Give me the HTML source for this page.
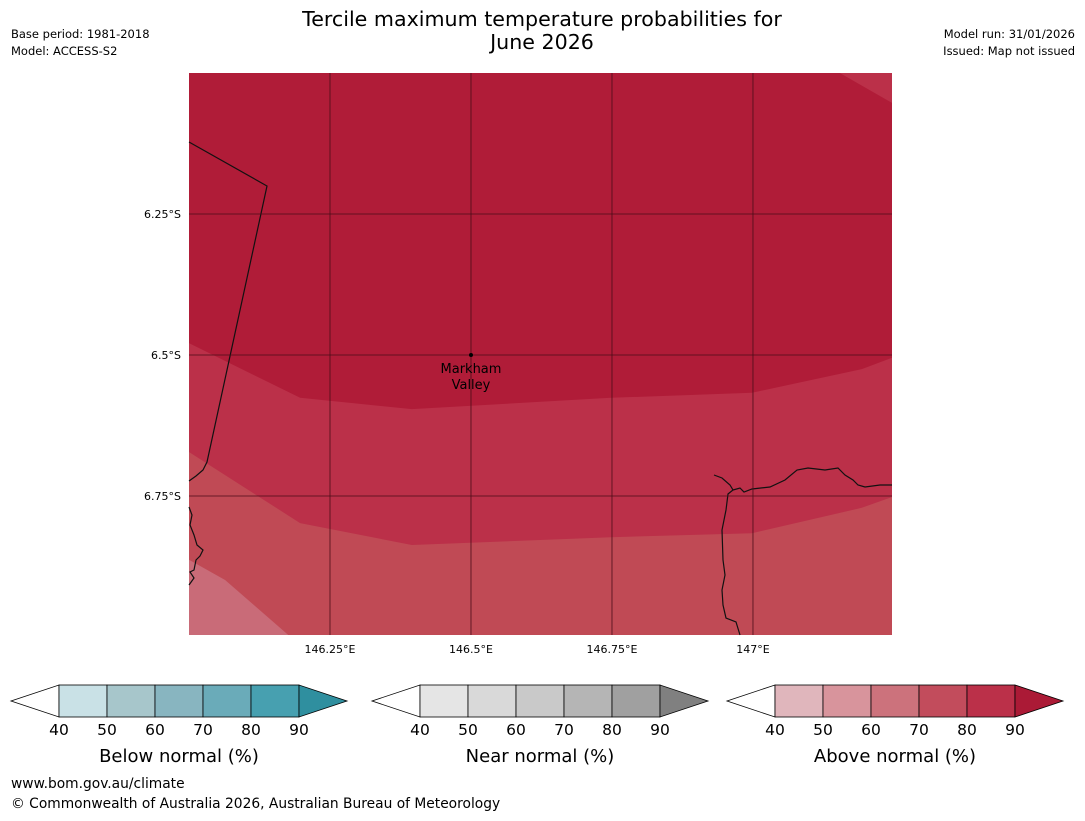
<!DOCTYPE html>
<html><head><meta charset="utf-8"><style>
body{margin:0;background:#fff;font-family:"Liberation Sans","DejaVu Sans",sans-serif;}
svg text{font-family:"DejaVu Sans","Liberation Sans",sans-serif;}
</style></head><body>
<svg id="c" width="1085" height="816" xmlns="http://www.w3.org/2000/svg">
<text x="542" y="26" font-size="20.6" text-anchor="middle">Tercile maximum temperature probabilities for</text>
<text x="542" y="49" font-size="20.6" text-anchor="middle">June 2026</text>
<text x="11" y="38" font-size="11.5">Base period: 1981-2018</text>
<text x="11" y="55" font-size="11.5">Model: ACCESS-S2</text>
<text x="1075" y="38" font-size="11.5" text-anchor="end">Model run: 31/01/2026</text>
<text x="1075" y="55" font-size="11.5" text-anchor="end">Issued: Map not issued</text>
<g id="map"></g>
<g id="bars"></g>
<text x="11" y="788" font-size="13.8">www.bom.gov.au/climate</text>
<text x="11" y="808" font-size="13.8">© Commonwealth of Australia 2026, Australian Bureau of Meteorology</text>
</svg>
<script>
const NS="http://www.w3.org/2000/svg";
const lonMin=146.0, lonMax=147.2465, latTop=-6.0, latBot=-6.9965;
const lonTicks=[146.25,146.5,146.75,147.0];
const lonLabels=["146.25°E","146.5°E","146.75°E","147°E"];
const latTicks=[-6.25,-6.5,-6.75];
const latLabels=["6.25°S","6.5°S","6.75°S"];
const bandColors=["#b01c38","#bb3049","#c04a55","#c96b78"];
const boundary80=[[146.0,-6.479],[146.197,-6.576],[146.395,-6.596],[146.748,-6.576],[146.998,-6.567],[147.193,-6.525],[147.2465,-6.505]];
const boundary70=[[146.0,-6.672],[146.197,-6.798],[146.395,-6.837],[146.748,-6.823],[146.998,-6.816],[147.193,-6.771],[147.2465,-6.752]];
const boundary60=[[146.0,-6.863],[146.064,-6.899],[146.176,-6.9965]];
const cornerBand=[[147.154,-6.0],[147.2465,-6.053],[147.2465,-6.0]];
const town={name1:"Markham",name2:"Valley",lon:146.5,lat:-6.5};
const X0=189,X1=892,Y0=73,Y1=635;
const sx=l=>X0+(l-lonMin)/(lonMax-lonMin)*(X1-X0);
const sy=l=>Y0+(latTop-l)/(latTop-latBot)*(Y1-Y0);
const map=document.getElementById('map');
function mk(tag,attrs,parent){const e=document.createElementNS(NS,tag);for(const k in attrs)e.setAttribute(k,attrs[k]);(parent||map).appendChild(e);return e;}
const pts=a=>a.map(p=>sx(p[0]).toFixed(1)+","+sy(p[1]).toFixed(1)).join(" ");
let r=mk('rect',{x:X0,y:Y0,width:X1-X0,height:Y1-Y0,fill:bandColors[0]});


let p=mk('polygon',{points:pts(boundary80)+` ${X1},${Y1} ${X0},${Y1}`,fill:bandColors[1]});


p=mk('polygon',{points:pts(boundary70)+` ${X1},${Y1} ${X0},${Y1}`,fill:bandColors[2]});


p=mk('polygon',{points:pts(boundary60)+` ${X0},${Y1}`,fill:bandColors[3]});


p=mk('polygon',{points:pts(cornerBand),fill:bandColors[1]});


const coast=[
"M189,142 L267,186 L207,462 L203,470 L196,476 L189,481",
"M189,507 L192,515 L190,525 L194,535 L197,545 L203,550 L200,556 L196,560 L194,570 L190,572 L194,578 L189,585",
"M714,475 L722,478 L730,485 L733,490 L728,494 L726,510 L722,530 L723,560 L725,575 L722,590 L723,605 L726,618 L736,622 L740,635",
"M733,490 L740,488 L744,492 L752,489 L770,487 L785,480 L797,470 L808,468 L825,470 L838,468 L845,475 L853,480 L858,485 L865,487 L880,485 L892,485"];
coast.forEach((d,i)=>{const e=mk('path',{d:d,fill:'none',stroke:'#111','stroke-width':1.2});

});
lonTicks.forEach((v,i)=>{const x=sx(v);
const l=mk('line',{x1:x,y1:Y0,x2:x,y2:Y1,stroke:'#4a0d18','stroke-width':0.8});


const t=mk('text',{x:x,y:653,'font-size':11,'text-anchor':'middle'});t.textContent=lonLabels[i];

});
latTicks.forEach((v,i)=>{const y=sy(v);
const l=mk('line',{x1:X0,y1:y,x2:X1,y2:y,stroke:'#4a0d18','stroke-width':0.8});


const t=mk('text',{x:181,y:y+4,'font-size':11,'text-anchor':'end'});t.textContent=latLabels[i];

});
const dot=mk('circle',{cx:sx(town.lon),cy:sy(town.lat),r:2,fill:'#000'});


let t1=mk('text',{x:sx(town.lon),y:sy(town.lat)+18,'font-size':13,'text-anchor':'middle'});t1.textContent=town.name1;


let t2=mk('text',{x:sx(town.lon),y:sy(town.lat)+34,'font-size':13,'text-anchor':'middle'});t2.textContent=town.name2;


const barTicks=[40,50,60,70,80,90];
const barTitles=["Below normal (%)","Near normal (%)","Above normal (%)"];
const barColors=[["#c9e1e6","#a7c6cb","#88b5c0","#6aabb9","#47a0b0","#2f8f9f"],
["#e5e5e5","#d9d9d9","#c9c9c9","#b5b5b5","#a0a0a0","#808080"],
["#e0b6bc","#d8949c","#cc727c","#c24c5c","#bb3049","#ab1a36"]];
const barX=[59,420,775];
const bars=document.getElementById('bars');
barX.forEach((bx,k)=>{const g=mk('g',{},bars);


const y0=685,h=32,w=48;
mk('polygon',{points:`${bx},${y0} ${bx},${y0+h} ${bx-48},${y0+h/2}`,fill:'#fff',stroke:'#000','stroke-width':0.8},g);
for(let i=0;i<5;i++){mk('rect',{x:bx+i*w,y:y0,width:w,height:h,fill:barColors[k][i],stroke:'#000','stroke-width':0.8},g);}
mk('polygon',{points:`${bx+240},${y0} ${bx+240},${y0+h} ${bx+288},${y0+h/2}`,fill:barColors[k][5],stroke:'#000','stroke-width':0.8},g);
barTicks.forEach((v,i)=>{const t=mk('text',{x:bx+i*w,y:735,'font-size':15.5,'text-anchor':'middle'},g);t.textContent=v;

});
const tt=mk('text',{x:bx+120,y:762,'font-size':18,'text-anchor':'middle'},g);tt.textContent=barTitles[k];


});
</script>
</body></html>
